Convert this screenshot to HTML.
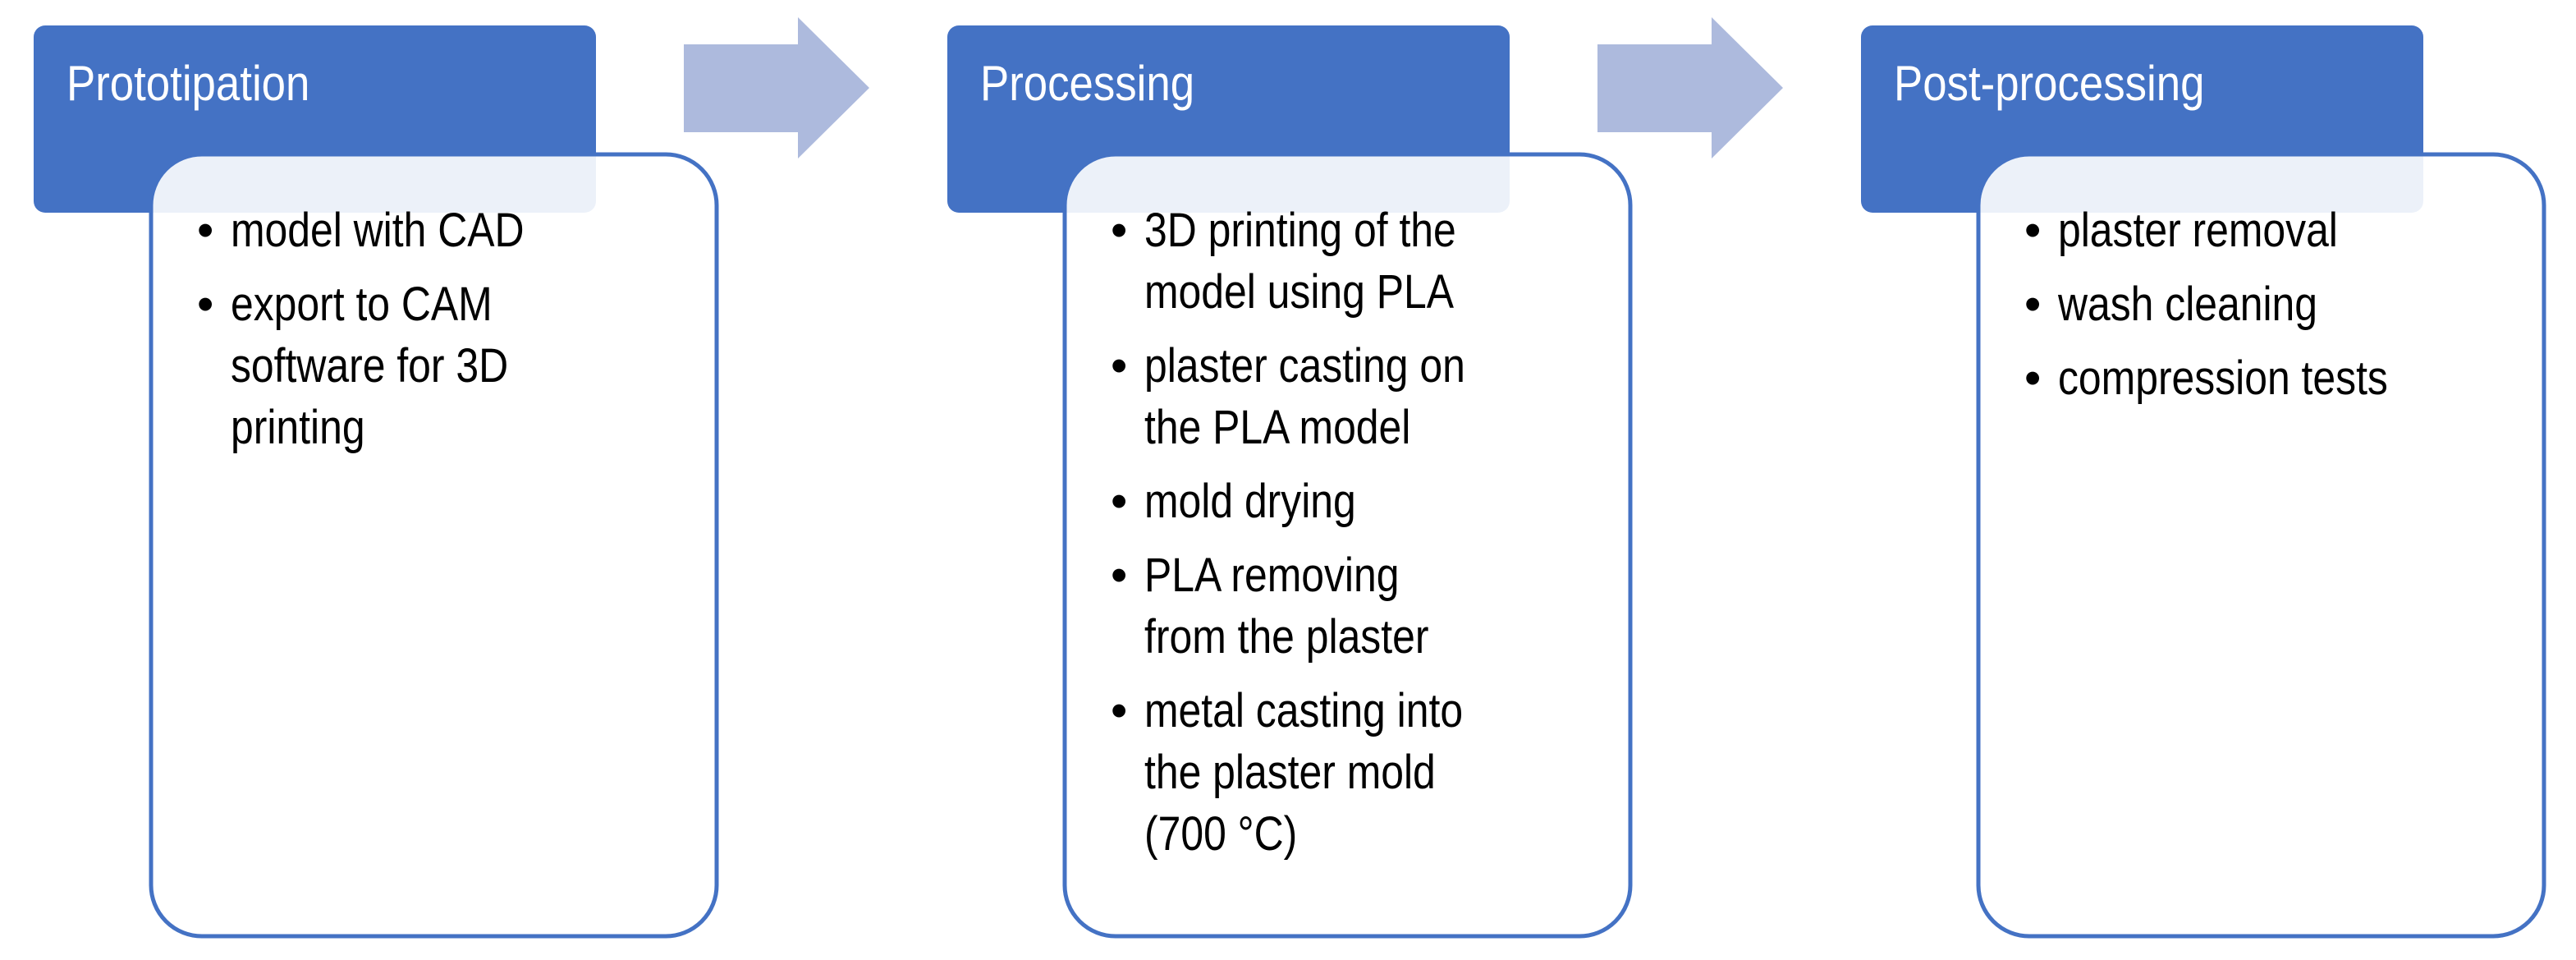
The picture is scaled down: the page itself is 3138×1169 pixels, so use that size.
<!DOCTYPE html>
<html><head><meta charset="utf-8"><style>
html,body{margin:0;padding:0;background:#fff;width:3138px;height:1169px;overflow:hidden}
svg{display:block}
text{font-family:"Liberation Sans",sans-serif;font-size:58px}
.h{fill:#fff}
.t{fill:#000}
</style></head><body>
<svg width="3138" height="1169" viewBox="0 0 3138 1169" xmlns="http://www.w3.org/2000/svg">
<defs>
<g id="col">
<rect x="41" y="31" width="685" height="228" rx="14" fill="#4472c4"/>
<rect x="184" y="188" width="689" height="952" rx="62" fill="#fff" fill-opacity="0.9" stroke="#4472c4" stroke-width="5"/>
</g>
</defs>
<use href="#col"/>
<use href="#col" x="1113"/>
<use href="#col" x="2226"/>
<polygon points="833,54 972,54 972,21 1059,107 972,193 972,161 833,161" fill="#adbadd"/>
<polygon points="1946,54 2085,54 2085,21 2172,107 2085,193 2085,161 1946,161" fill="#adbadd"/>

<g transform="translate(81,0) scale(0.88,1)"><text class="h" y="122" style="font-size:60px">Prototipation</text></g>
<g transform="translate(1194,0) scale(0.88,1)"><text class="h" y="122" style="font-size:60px">Processing</text></g>
<g transform="translate(2307,0) scale(0.88,1)"><text class="h" y="122" style="font-size:60px">Post-processing</text></g>

<g class="t">
<text x="240" y="300">•</text><text x="240" y="390">•</text>
<text x="1353" y="300">•</text><text x="1353" y="465">•</text><text x="1353" y="630">•</text><text x="1353" y="720">•</text><text x="1353" y="885">•</text>
<text x="2466" y="300">•</text><text x="2466" y="390">•</text><text x="2466" y="480">•</text>
</g>
<g transform="translate(281,0) scale(0.86,1)">
<text class="t" y="300">model with CAD</text>
<text class="t" y="390">export to CAM</text>
<text class="t" y="465">software for 3D</text>
<text class="t" y="540">printing</text>
</g>
<g transform="translate(1394,0) scale(0.86,1)">
<text class="t" y="300">3D printing of the</text>
<text class="t" y="375">model using PLA</text>
<text class="t" y="465">plaster casting on</text>
<text class="t" y="540">the PLA model</text>
<text class="t" y="630">mold drying</text>
<text class="t" y="720">PLA removing</text>
<text class="t" y="795">from the plaster</text>
<text class="t" y="885">metal casting into</text>
<text class="t" y="960">the plaster mold</text>
<text class="t" y="1035">(700 °C)</text>
</g>
<g transform="translate(2507,0) scale(0.86,1)">
<text class="t" y="300">plaster removal</text>
<text class="t" y="390">wash cleaning</text>
<text class="t" y="480">compression tests</text>
</g>
</svg>
</body></html>
